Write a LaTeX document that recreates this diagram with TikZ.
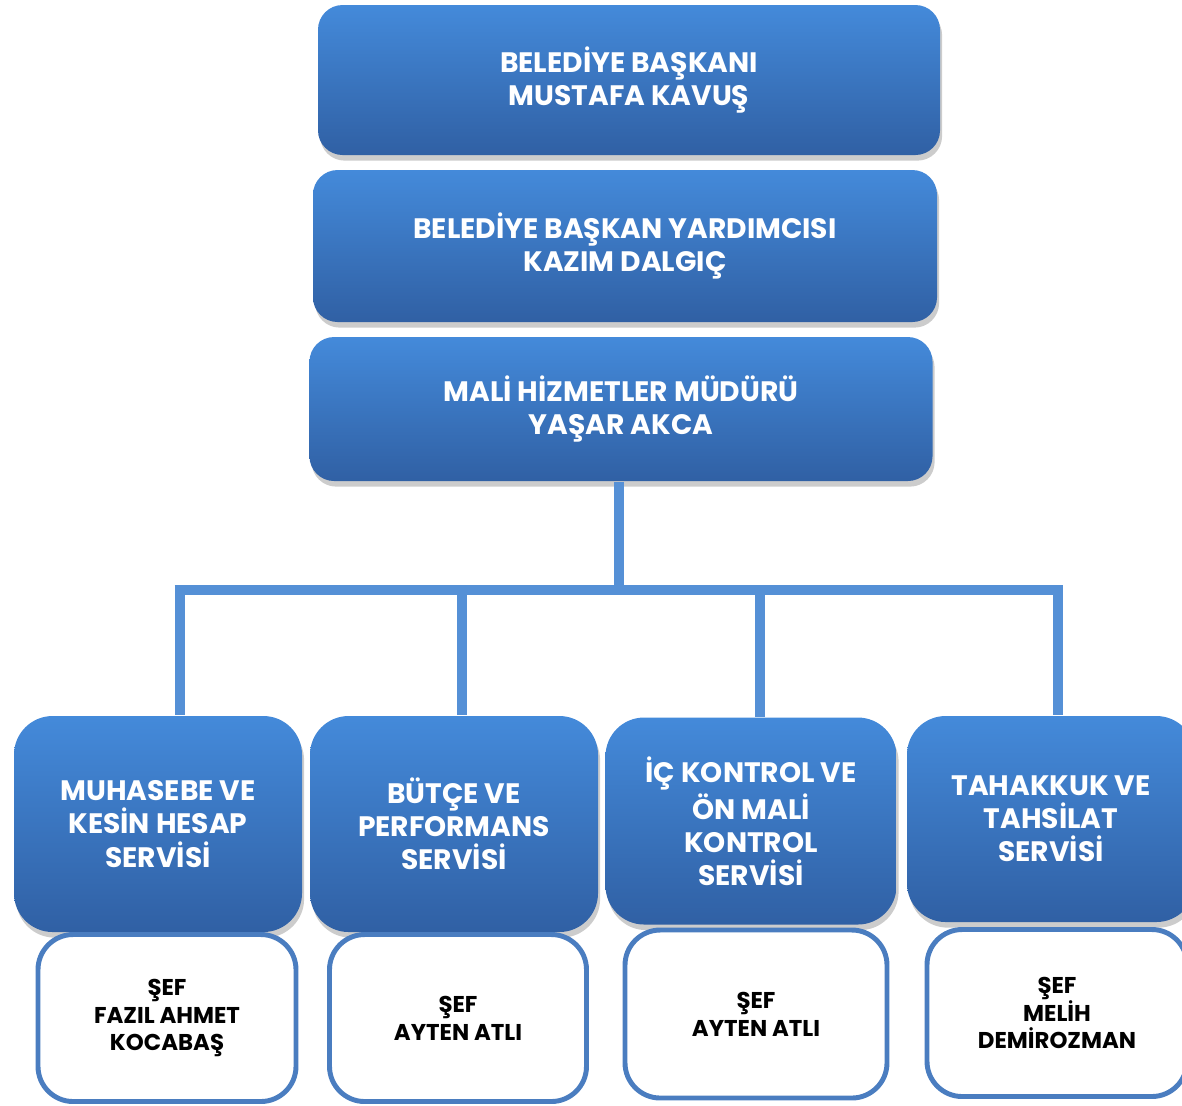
\documentclass[tikz,border=0pt]{standalone}
\usepackage{fontspec}
\setmainfont{Poppins}
\usetikzlibrary{math,shadows}

\definecolor{kutuust}{RGB}{68,138,218}
\definecolor{kutualt}{RGB}{48,96,164}
\definecolor{hat}{RGB}{85,144,214}
\definecolor{cerceve}{RGB}{74,125,192}

\tikzset{
mavi/.style={rounded corners=7pt, top color=kutuust, bottom color=kutualt,
  drop shadow={opacity=0.4,shadow xshift=0.6pt,shadow yshift=-1.6pt},
  text=white, font=\fontsize{8}{9.4}\selectfont\bfseries, align=center, inner sep=0pt},
altmavi/.style={mavi, rounded corners=11pt},
sef/.style={rounded corners=10pt, fill=white, draw=cerceve, line width=1.4pt,
  font=\fontsize{6.5}{7.9}\selectfont\bfseries, align=center, inner sep=0pt},
hatcizgi/.style={draw=hat, line width=2.6pt}
}

\begin{document}
\begin{tikzpicture}

\tikzmath{
\scale = 0.01;
}

\useasboundingbox (0,0) rectangle (1182*\scale,-1105*\scale);
\clip (0,0) rectangle (1182*\scale,-1105*\scale);

% ust kademe
\node[mavi, minimum width=622*\scale*1cm, minimum height=150*\scale*1cm] (baskan) at (629*\scale,-80*\scale) {BELED\.IYE BAŞKANI\\MUSTAFA KAVUŞ};
\node[mavi, minimum width=624*\scale*1cm, minimum height=152*\scale*1cm] (yardimci) at (625*\scale,-246*\scale) {BELED\.IYE BAŞKAN YARDIMCISI\\KAZIM DALGIÇ};
\node[mavi, minimum width=623*\scale*1cm, minimum height=144*\scale*1cm] (mudur) at (621*\scale,-409*\scale) {MAL\.I H\.IZMETLER MÜDÜRÜ\\YAŞAR AKCA};

% baglanti hatlari
\coordinate (bar) at (619*\scale,-590*\scale);
\coordinate (d1) at (180*\scale,-590*\scale);
\coordinate (d2) at (462*\scale,-590*\scale);
\coordinate (d3) at (760*\scale,-590*\scale);
\coordinate (d4) at (1058*\scale,-590*\scale);

\draw[hatcizgi] (mudur.south -| bar) -- (bar);
\draw[hatcizgi, line width=3pt] ([xshift=-1.5pt]d1) -- ([xshift=1.5pt]d4);

% servisler
\node[altmavi, minimum width=288*\scale*1cm, minimum height=216*\scale*1cm] (muhasebe) at (158*\scale,-824*\scale) {MUHASEBE VE\\KES\.IN HESAP\\SERV\.IS\.I};
\node[altmavi, minimum width=288*\scale*1cm, minimum height=216*\scale*1cm] (butce) at (454*\scale,-824*\scale) {BÜTÇE VE\\PERFORMANS\\SERV\.IS\.I};
\node[altmavi, minimum width=291*\scale*1cm, minimum height=207*\scale*1cm] (ickontrol) at (751*\scale,-821*\scale) {\.IÇ KONTROL VE\\ÖN MAL\.I\\KONTROL\\SERV\.IS\.I};
\node[altmavi, minimum width=288*\scale*1cm, minimum height=206*\scale*1cm] (tahakkuk) at (1051*\scale,-819*\scale) {TAHAKKUK VE\\TAHS\.ILAT\\SERV\.IS\.I};

\draw[hatcizgi] (d1) -- (d1 |- muhasebe.north);
\draw[hatcizgi] (d2) -- (d2 |- butce.north);
\draw[hatcizgi] (d3) -- (d3 |- ickontrol.north);
\draw[hatcizgi] (d4) -- (d4 |- tahakkuk.north);

% sefler
\node[sef, minimum width=258*\scale*1cm, minimum height=167*\scale*1cm] (sef1) at (167*\scale,-1018*\scale) {ŞEF\\FAZIL AHMET\\KOCABAŞ};
\node[sef, minimum width=257*\scale*1cm, minimum height=167*\scale*1cm] (sef2) at (458*\scale,-1018*\scale) {ŞEF\\AYTEN ATLI};
\node[sef, minimum width=262*\scale*1cm, minimum height=168*\scale*1cm] (sef3) at (756*\scale,-1014*\scale) {ŞEF\\AYTEN ATLI};
\node[sef, minimum width=260*\scale*1cm, minimum height=167*\scale*1cm] (sef4) at (1057*\scale,-1013*\scale) {ŞEF\\MEL\.IH\\DEM\.IROZMAN};

\end{tikzpicture}
\end{document}
